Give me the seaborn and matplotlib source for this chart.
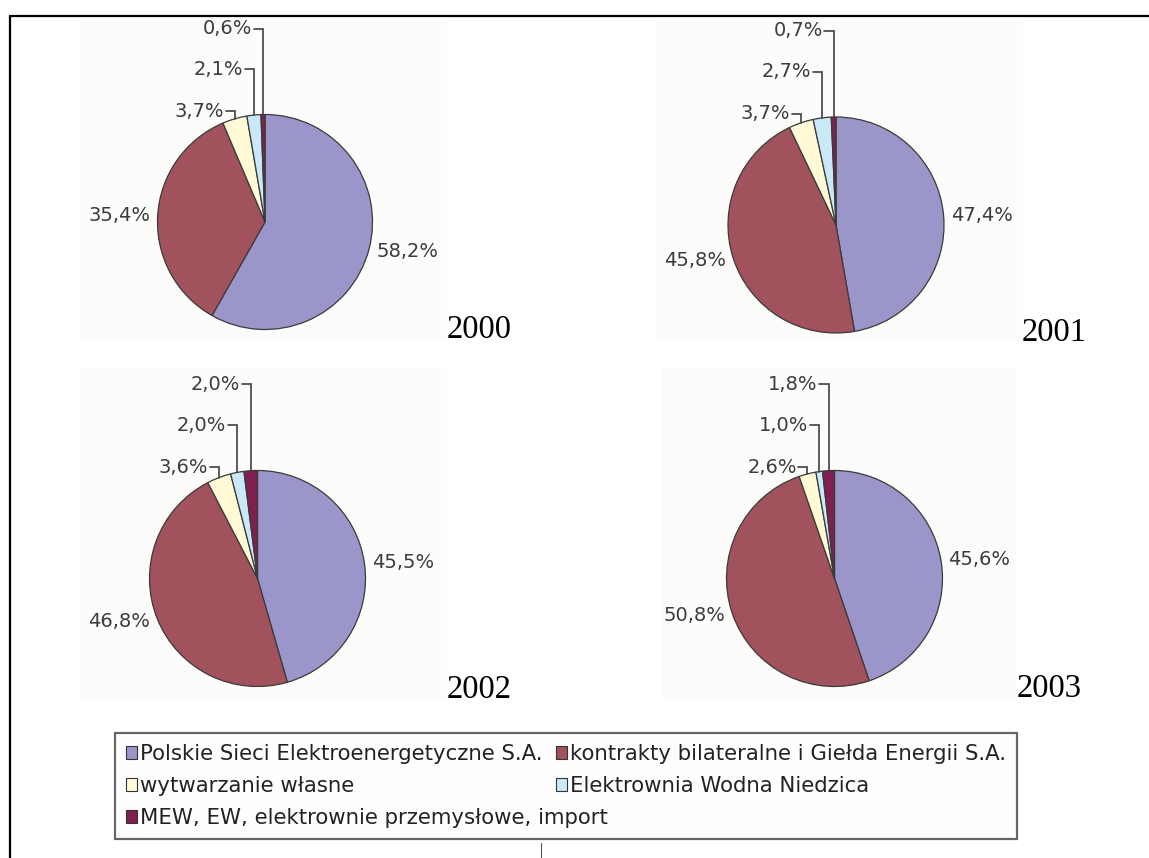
import numpy as np
import matplotlib
matplotlib.use("Agg")
import matplotlib.pyplot as plt
from matplotlib.patches import Patch
from matplotlib.lines import Line2D
import seaborn as sns

# Energy purchase structure by supplier, per year (percent shares)
years = ["2000", "2001", "2002", "2003"]
categories = [
    "Polskie Sieci Elektroenergetyczne S.A.",
    "kontrakty bilateralne i Giełda Energii S.A.",
    "wytwarzanie własne",
    "Elektrownia Wodna Niedzica",
    "MEW, EW, elektrownie przemysłowe, import",
]
pse = [58.2, 47.4, 45.5, 45.6]
kontrakty = [35.4, 45.8, 46.8, 50.8]
wlasne = [3.7, 3.7, 3.6, 2.6]
niedzica = [2.1, 2.7, 2.0, 1.0]
mew = [0.6, 0.7, 2.0, 1.8]

colors = sns.color_palette(["#9B96C9", "#A2525C", "#FFF9D6", "#C9E8F8", "#801F50"])

sns.set_theme(style="white")
plt.rcParams["font.family"] = ["DejaVu Sans"]

W, H, DPI = 1149, 858, 100
fig = plt.figure(figsize=(W / DPI, H / DPI), dpi=DPI)
fig.patch.set_facecolor("white")

# panel boxes in pixels: left, top, right, bottom, pie centre x, centre y, radius
panels = [
    (80, 18, 447, 340, 265, 222, 107.5),
    (655, 18, 1023, 342, 836, 225, 108),
    (80, 368, 447, 700, 257.5, 578.5, 108),
    (662, 368, 1017, 698, 834.5, 578.5, 108),
]
year_pos = [(447, 338), (1022, 341), (447, 698), (1017, 697)]

label_color = "#3c3c3c"
small_levels = [1.03, 1.42, 1.80]


def fmt(v):
    return f"{v:.1f}%".replace(".", ",")


for k, year in enumerate(years):
    l, t, r, b, cx, cy, R = panels[k]
    ax = fig.add_axes([l / W, 1 - b / H, (r - l) / W, (b - t) / H])
    vals = [pse[k], kontrakty[k], wlasne[k], niedzica[k], mew[k]]
    wedges, _ = ax.pie(
        vals, colors=colors, startangle=90, counterclock=False,
        wedgeprops=dict(edgecolor="#3a3a3a", linewidth=0.9),
    )
    ax.set_aspect("auto")
    ax.set_xlim((l - cx) / R, (r - cx) / R)
    ax.set_ylim((cy - b) / R, (cy - t) / R)
    ax.set_frame_on(True)
    for s in ax.spines.values():
        s.set_visible(False)
    ax.set_facecolor("#FCFCFA")
    ax.set_xticks([])
    ax.set_yticks([])

    for i, (w, v) in enumerate(zip(wedges, vals)):
        mid = np.deg2rad((w.theta1 + w.theta2) / 2)
        dx, dy = np.cos(mid), np.sin(mid)
        if i < 2:
            ax.text(1.07 * dx, 1.07 * dy, fmt(v), ha="left" if dx > 0 else "right",
                    va="center", fontsize=14, color=label_color)
        else:
            lev = small_levels[i - 2]
            ax.plot([dx, dx, dx - 0.085], [dy, lev, lev], color="#404040", lw=1.2,
                    solid_joinstyle="miter")
            ax.text(dx - 0.1, lev, fmt(v), ha="right", va="center",
                    fontsize=14, color=label_color)

    xp, yp = year_pos[k]
    fig.text(xp / W, 1 - yp / H, year, family="Liberation Serif", fontsize=23.5,
             va="baseline", ha="left", color="black")

# legend, filled row by row and stretched across its box
handles = [Patch(facecolor=c, edgecolor="#333333", linewidth=0.8) for c in colors]
order = [0, 2, 4, 1, 3]
leg_l, leg_t, leg_r, leg_b = 115, 733, 1017, 842
leg = fig.legend(
    [handles[i] for i in order], [categories[i] for i in order],
    ncol=2, loc="upper left", mode="expand",
    bbox_to_anchor=(leg_l / W, 1 - leg_b / H, (leg_r - leg_l) / W, (leg_b - leg_t) / H),
    bbox_transform=fig.transFigure, frameon=True, fancybox=False,
    edgecolor="#666666", facecolor="#FEFEFE", framealpha=1, fontsize=15.3,
    handlelength=0.55, handleheight=0.55, handletextpad=0.15,
    labelspacing=0.58, borderpad=0.5, borderaxespad=0,
)
leg.get_frame().set_linewidth(1.6)
for txt in leg.get_texts():
    txt.set_color("#222222")

# page frame lines
fig.add_artist(Line2D([10 / W, 10 / W], [0, 1 - 16 / H], color="black", lw=1.6,
                      transform=fig.transFigure))
fig.add_artist(Line2D([10 / W, 1], [1 - 16 / H, 1 - 16 / H], color="black", lw=1.6,
                      transform=fig.transFigure))
fig.add_artist(Line2D([541 / W, 541 / W], [0, 1 - 843 / H], color="#555555", lw=0.8,
                      transform=fig.transFigure))

fig.savefig("out.png", dpi=DPI, facecolor="white")
